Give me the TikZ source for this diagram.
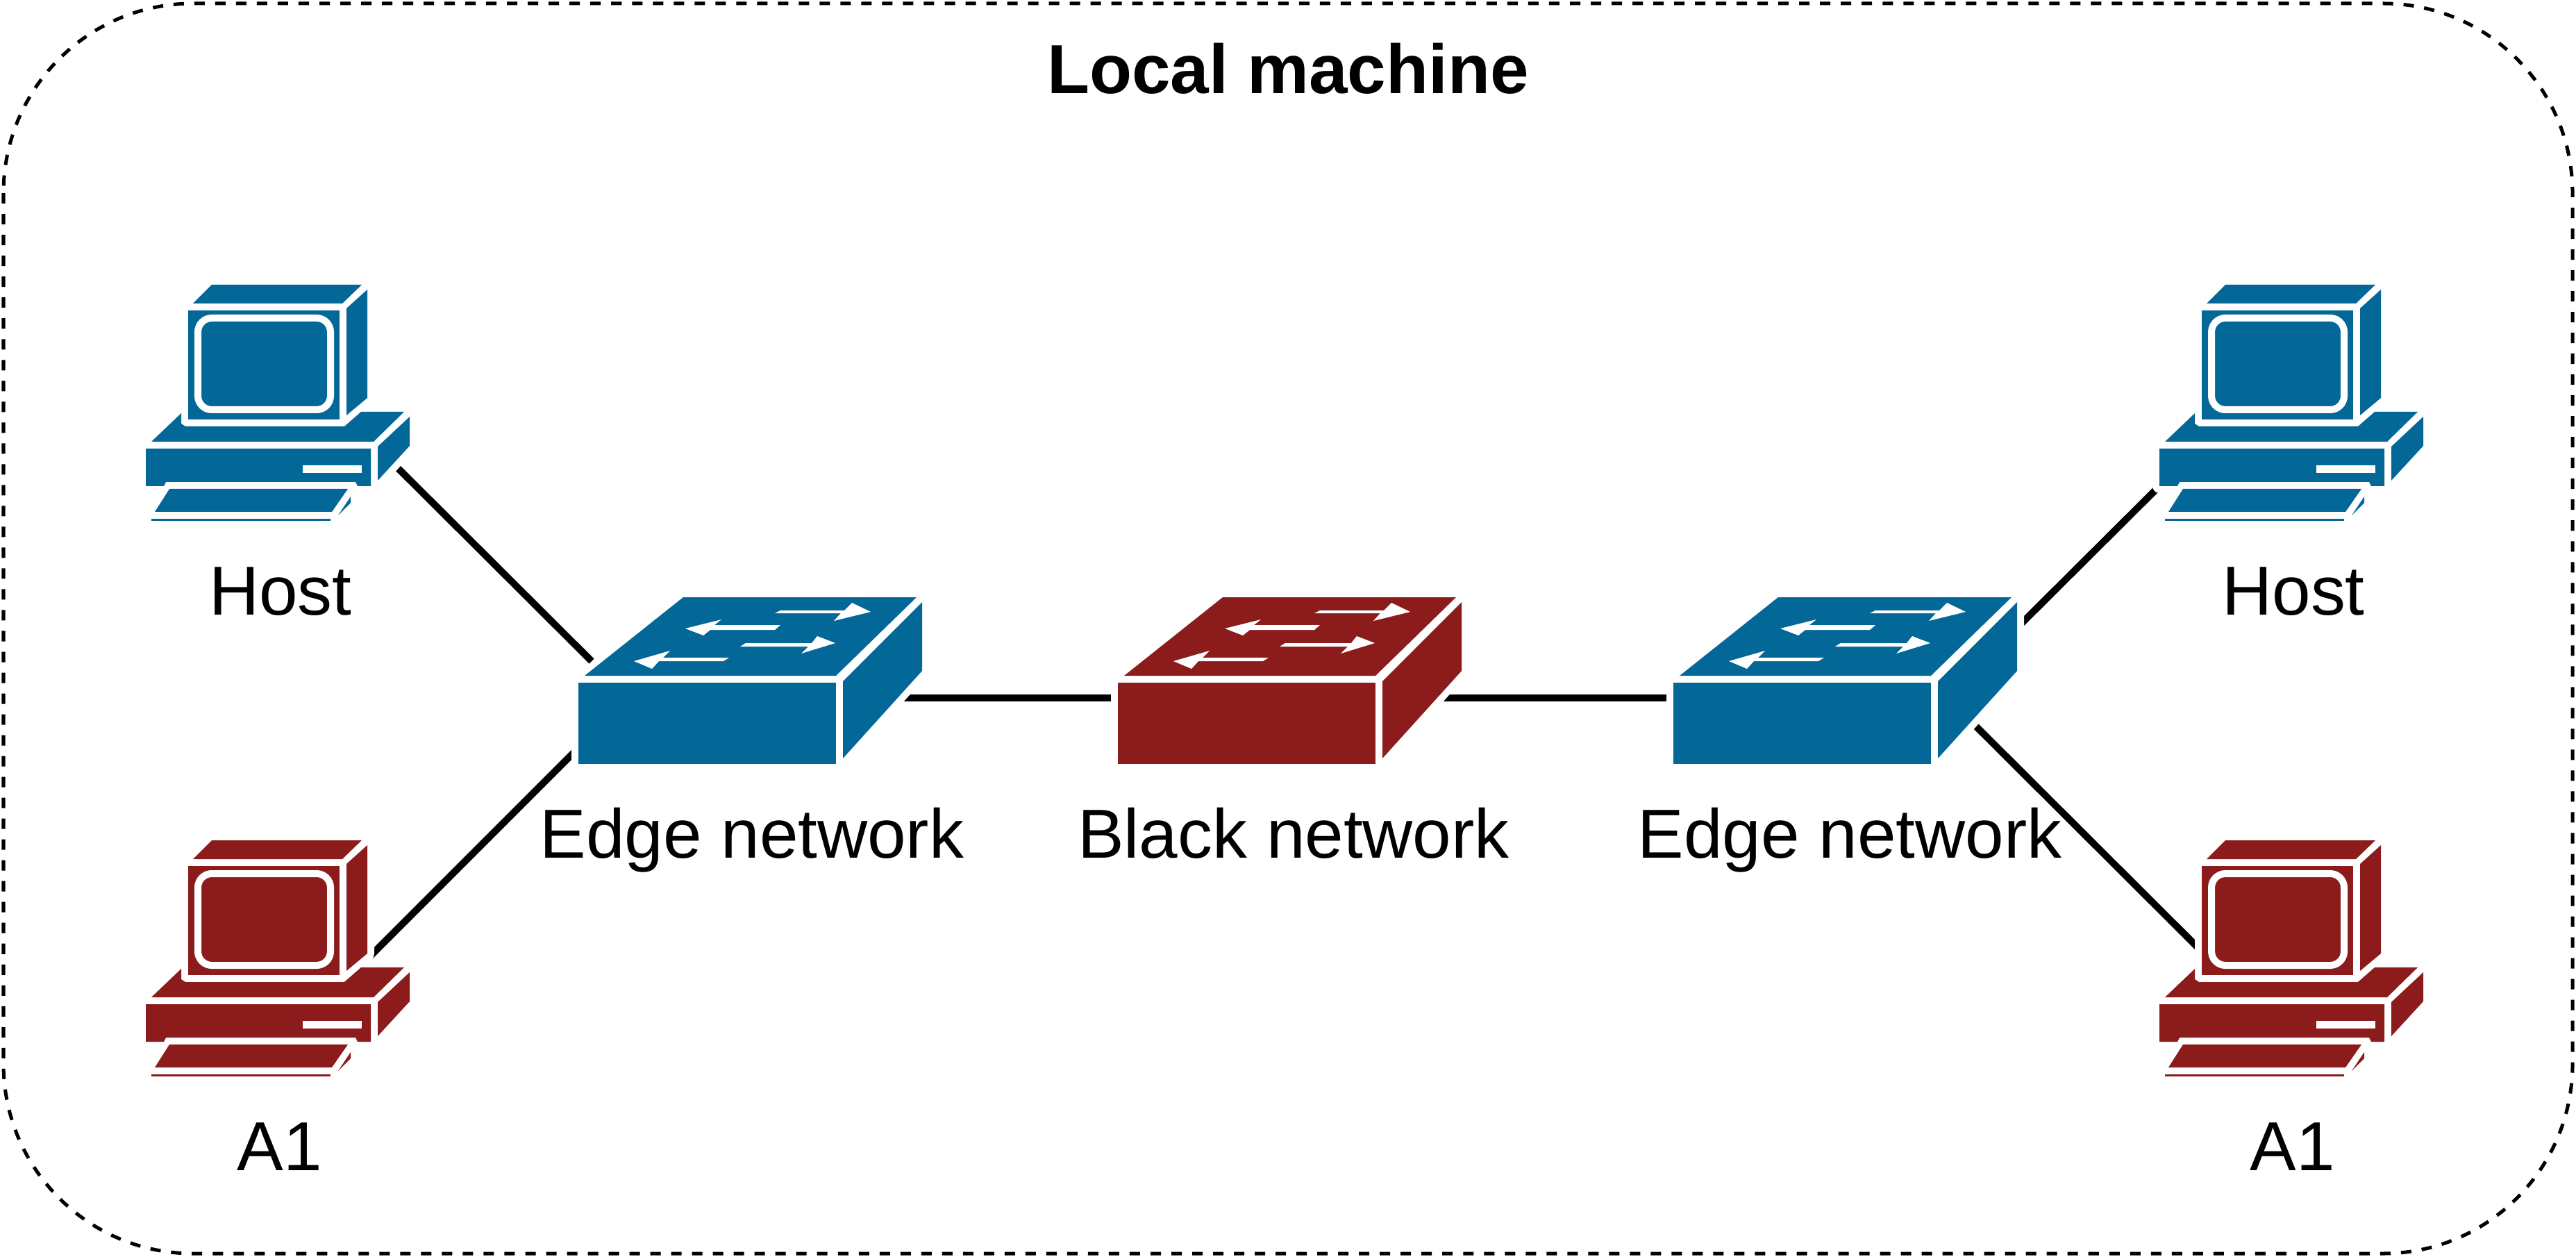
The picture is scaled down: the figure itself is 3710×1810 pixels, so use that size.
\documentclass[tikz,border=0pt]{standalone}
\usepackage{fontspec}
\setmainfont{Liberation Sans}
\usetikzlibrary{backgrounds}
\definecolor{netblue}{HTML}{036897}
\definecolor{netred}{HTML}{8C1C1C}

\begin{document}
\begin{tikzpicture}[x=0.01cm, y=-0.01cm,
    frame/.style = {draw, dashed, line width=0.05cm, dash pattern=on 0.15cm off 0.15cm, rounded corners=2.73cm},
    link/.style = {draw, line width=0.1cm},
    halo/.style = {fill=white, draw=white, line width=0.2cm, line join=round},
    label/.style = {anchor=base, inner sep=0pt, font=\fontsize{28.4}{34}\selectfont},
    pics/computer/.style = {code={
        \path[halo] (95,0) -- (311,0) -- (319,7) -- (319,163) -- (310,183) -- (372,183) -- (380,190) -- (380,232)
            -- (334,282) -- (295,314) -- (266,340) -- (8,340) -- (26,290) -- (0,290) -- (0,236) -- (51,185) -- (61,185) -- (61,37) -- cycle;
        \fill[#1] (95,0) -- (311,0) -- (283,27) -- (68,27) -- cycle;
        \fill[#1] (319,7) -- (319,163) -- (289,188) -- (289,34) -- cycle;
        \fill[#1] (61,37) rectangle (279,194);
        \draw[white, line width=0.1cm, rounded corners=0.2cm] (75,48) rectangle (266,180);
        \fill[#1] (51,185) -- (8,226) -- (328,226) -- (372,183) -- (310,183) -- (286,204) -- (57,204) -- (51,200) -- cycle;
        \fill[#1] (334,233) -- (380,190) -- (380,232) -- (334,282) -- cycle;
        \fill[#1] (0,236) -- (324,236) -- (324,290) -- (305,290) -- (302,284) -- (29,284) -- (26,290) -- (0,290) -- cycle;
        \fill[white] (226,260) rectangle (311,271);
        \fill[#1] (34,294) -- (291,294) -- (268,327) -- (13,327) -- cycle;
        \fill[#1] (295,305) -- (295,314) -- (277,332) -- cycle;
        \fill[#1] (8,337) rectangle (266,340);
        \coordinate (-se) at (363,264);
        \coordinate (-e) at (319,171);
        \coordinate (-w) at (61,160);
        \coordinate (-sw) at (0,290);
    }},
    pics/switch/.style = {code={
        \path[halo] (151,0) -- (487,0) -- (495,7) -- (495,106) -- (381,232) -- (371,240) -- (0,240) -- (0,123) -- cycle;
        \fill[#1] (151,0) -- (487,0) -- (371,113) -- (9,113) -- cycle;
        \fill[#1] (495,7) -- (495,106) -- (381,232) -- (381,121) -- cycle;
        \fill[#1] (0,123) rectangle (371,240);
        \fill[white] (283,23) -- (291,19) -- (383,19) -- (394,8) -- (421,21) -- (368,34) -- (378,23) -- cycle;
        \fill[white] (291,40) -- (283,47) -- (190,47) -- (180,55) -- (154,45) -- (206,32) -- (196,40) -- cycle;
        \fill[white] (233,71) -- (241,66) -- (336,66) -- (344,56) -- (370,66) -- (321,81) -- (331,71) -- cycle;
        \fill[white] (217,87) -- (209,92) -- (116,92) -- (106,103) -- (80,92) -- (132,77) -- (122,87) -- cycle;
        \coordinate (-nw) at (19,92);
        \coordinate (-sw) at (0,217);
        \coordinate (-w) at (0,145);
        \coordinate (-e) at (457,145);
        \coordinate (-ne) at (495,44);
        \coordinate (-se) at (436,186);
    }}]
    \useasboundingbox (0,0) rectangle (3710,1810);
    \path[frame] (5,5) rectangle (3705,1805);
    \node[label, font=\fontsize{28.4}{34}\selectfont\bfseries] (title) at (1855,135) {Local machine};

    \pic (hostL) at (210,410) {computer=netblue};
    \pic (aoneL) at (210,1210) {computer=netred};
    \pic (hostR) at (3110,410) {computer=netblue};
    \pic (aoneR) at (3110,1210) {computer=netred};
    \pic (edgeL) at (833,860) {switch=netblue};
    \pic (black) at (1610,860) {switch=netred};
    \pic (edgeR) at (2410,860) {switch=netblue};

    \node[label] (hostLtext) at (404,885) {Host};
    \node[label] (aoneLtext) at (403,1685) {A1};
    \node[label] (hostRtext) at (3303,885) {Host};
    \node[label] (aoneRtext) at (3302,1685) {A1};
    \node[label] (edgeLtext) at (1083,1235) {Edge network};
    \node[label] (blacktext) at (1863,1235) {Black network};
    \node[label] (edgeRtext) at (2664,1235) {Edge network};

    \begin{scope}[on background layer]
        \path[link] (hostL-se) -- (edgeL-nw);
        \path[link] (aoneL-e) -- (edgeL-sw);
        \path[link] (edgeL-e) -- (black-w);
        \path[link] (black-e) -- (edgeR-w);
        \path[link] (edgeR-ne) -- (hostR-sw);
        \path[link] (edgeR-se) -- (aoneR-w);
    \end{scope}
\end{tikzpicture}
\end{document}
